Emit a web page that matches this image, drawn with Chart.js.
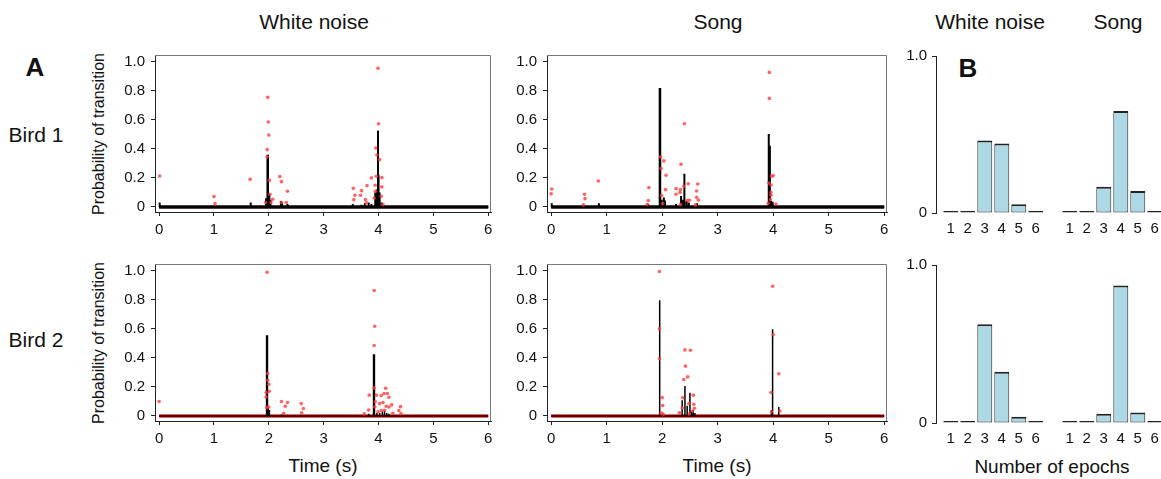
<!DOCTYPE html>
<html>
<head>
<meta charset="utf-8">
<title>Probability of transition</title>
<script src="https://cdn.jsdelivr.net/npm/chart.js@4.4.0/dist/chart.umd.min.js"></script>
<style>
  body { margin: 0; background: #fff; }
  #figure { position: relative; width: 1161px; height: 479px; overflow: hidden;
            font-family: "Liberation Sans", Arial, sans-serif; color: #111; }
  #figure canvas { position: absolute; }
  .label { position: absolute; transform: translate(-50%, -50%); white-space: nowrap; font-size: 19px; }
  .head { font-size: 21px; }
  .bird { font-size: 21px; }
  .panel { font-weight: bold; font-size: 26px; }
  .ylab { font-size: 16px; transform: translate(-50%, -50%) rotate(-90deg); }
</style>
</head>
<body>
<div id="figure">
  <div class="label head" style="left:314px;top:22px">White noise</div>
  <div class="label head" style="left:718px;top:22px">Song</div>
  <div class="label head" style="left:990px;top:22px">White noise</div>
  <div class="label head" style="left:1118px;top:22px">Song</div>
  <div class="label panel" style="left:35px;top:67px">A</div>
  <div class="label panel" style="left:968px;top:68px">B</div>
  <div class="label bird" style="left:36px;top:135px">Bird 1</div>
  <div class="label bird" style="left:36px;top:340px">Bird 2</div>
  <div class="label ylab" style="left:99px;top:134px">Probability of transition</div>
  <div class="label ylab" style="left:99px;top:343px">Probability of transition</div>
  <div class="label" style="left:323px;top:466px">Time (s)</div>
  <div class="label" style="left:717px;top:466px">Time (s)</div>
  <div class="label" style="left:1052px;top:467px">Number of epochs</div>
  <canvas id="wn1"></canvas>
  <canvas id="song1"></canvas>
  <canvas id="wn2"></canvas>
  <canvas id="song2"></canvas>
  <canvas id="epochs1"></canvas>
  <canvas id="epochs2"></canvas>
</div>
<script>
// axis ticks
const timeTicks = [0, 1, 2, 3, 4, 5, 6];
const probTicks = [0, 0.2, 0.4, 0.6, 0.8, 1.0];
const epochs = ['1', '2', '3', '4', '5', '6'];

// Bird 1, white noise: black trace (spikes) and red points
const wn1SpikeT = [0.01, 1.67, 1.95, 1.975, 1.985, 2.01, 2.03, 2.22, 2.24, 2.34, 3.53, 3.69, 3.75, 3.82, 3.87, 3.94, 3.97, 3.99, 4.0, 4.02, 4.06];
const wn1SpikeP = [0.03, 0.03, 0.06, 0.36, 0.36, 0.09, 0.05, 0.04, 0.03, 0.02, 0.02, 0.015, 0.025, 0.03, 0.02, 0.1, 0.12, 0.525, 0.22, 0.1, 0.03];
const wn1DotT = [0.01, 1.0, 1.02, 1.66, 1.98, 1.99, 2.0, 1.97, 1.97, 2.01, 2.02, 2.07, 1.94, 2.04, 2.2, 2.23, 2.34, 2.23, 2.32,
                 3.54, 3.57, 3.55, 3.69, 3.67, 3.76, 3.79, 3.87, 3.78, 3.95, 3.97, 3.99, 4.0, 4.02, 3.96, 3.94, 4.06, 4.06, 4.05, 3.94, 3.92, 4.08];
const wn1DotP = [0.213, 0.071, 0.023, 0.19, 0.755, 0.585, 0.495, 0.395, 0.344, 0.183, 0.087, 0.053, 0.03, 0.03, 0.209, 0.174, 0.108, 0.03, 0.03,
                 0.128, 0.08, 0.05, 0.112, 0.08, 0.05, 0.147, 0.2, 0.028, 0.406, 0.358, 0.956, 0.573, 0.326, 0.211, 0.149, 0.202, 0.138, 0.073, 0.108, 0.062, 0.016];

// Bird 1, song
const song1SpikeT = [0.01, 0.58, 0.86, 1.75, 1.955, 1.965, 1.99, 2.03, 2.05, 2.25, 2.34, 2.37, 2.4, 2.44, 2.48, 2.63, 3.92, 3.94, 3.96, 3.99];
const song1SpikeP = [0.025, 0.015, 0.025, 0.02, 0.82, 0.82, 0.05, 0.065, 0.045, 0.02, 0.075, 0.05, 0.229, 0.04, 0.03, 0.025, 0.502, 0.422, 0.04, 0.035];
const song1DotT = [0.01, 0.0, 0.6, 0.61, 0.58, 0.85, 1.76, 1.75, 1.73, 1.97, 1.98, 2.03, 2.07, 2.06, 1.99, 2.01, 2.25, 2.25, 2.34, 2.33, 2.32,
                   2.4, 2.39, 2.47, 2.45, 2.49, 2.33, 2.64, 2.62, 2.62, 2.65, 2.6, 3.93, 3.93, 3.92, 3.96, 3.97, 4.0, 3.96, 3.96, 3.95, 4.05, 3.91];
const song1DotP = [0.124, 0.09, 0.087, 0.057, 0.014, 0.179, 0.133, 0.044, 0.016, 0.344, 0.264, 0.317, 0.218, 0.119, 0.078, 0.023, 0.126, 0.087, 0.294, 0.119, 0.1,
                   0.573, 0.142, 0.16, 0.044, 0.046, 0.016, 0.158, 0.11, 0.067, 0.048, 0.014, 0.927, 0.748, 0.165, 0.151, 0.211, 0.216, 0.1, 0.08, 0.05, 0.02, 0.025];

// Bird 2, white noise
const wn2SpikeT = [1.95, 1.965, 1.975, 1.99, 2.01, 2.23, 3.82, 3.9, 3.915, 3.925, 3.97, 4.02, 4.07, 4.11, 4.15, 4.19];
const wn2SpikeP = [0.03, 0.556, 0.556, 0.06, 0.04, 0.01, 0.015, 0.05, 0.425, 0.425, 0.02, 0.02, 0.03, 0.035, 0.02, 0.015];
const wn2DotT = [0.0, 1.97, 1.98, 1.98, 2.0, 2.01, 1.95, 1.95, 1.96, 2.0, 2.23, 2.34, 2.3, 2.27, 2.59, 2.63, 2.6,
                 3.92, 3.93, 3.92, 3.83, 3.92, 3.96, 3.82, 3.94, 3.93, 4.02, 4.05, 4.08, 4.1, 4.13, 4.14, 4.16, 4.19, 4.19, 4.24,
                 4.05, 4.11, 3.99, 4.26, 4.4, 4.37, 4.41, 3.74];
const wn2DotP = [0.099, 0.99, 0.292, 0.246, 0.218, 0.17, 0.161, 0.131, 0.057, 0.062, 0.099, 0.092, 0.067, 0.018, 0.085, 0.051, 0.021,
                 0.864, 0.618, 0.485, 0.143, 0.193, 0.143, 0.041, 0.097, 0.062, 0.085, 0.14, 0.092, 0.154, 0.191, 0.067, 0.154, 0.129, 0.062, 0.076,
                 0.037, 0.039, 0.028, 0.018, 0.064, 0.037, 0.016, 0.014];

// Bird 2, song
const song2SpikeT = [1.955, 2.01, 2.36, 2.41, 2.45, 2.5, 2.53, 2.56, 2.59, 3.97, 3.98, 3.995, 4.1];
const song2SpikeP = [0.798, 0.02, 0.108, 0.207, 0.07, 0.159, 0.03, 0.04, 0.02, 0.04, 0.598, 0.598, 0.062];
const song2DotT = [1.95, 1.95, 1.95, 2.0, 2.01, 1.98, 2.02, 2.41, 2.51, 2.42, 2.46, 2.39, 2.37, 2.36, 2.31, 2.48, 2.56, 2.57, 2.58, 2.55, 2.49,
                   3.96, 3.99, 4.0, 3.97, 4.1, 4.12];
const song2DotP = [0.995, 0.395, 0.6, 0.126, 0.071, 0.021, 0.011, 0.455, 0.453, 0.343, 0.269, 0.251, 0.126, 0.055, 0.021, 0.085, 0.143, 0.08, 0.053, 0.034, 0.014,
                   0.161, 0.894, 0.559, 0.028, 0.29, 0.034];

// B: proportion of songs by number of epochs
const wnBird1 = [0, 0, 0.462, 0.443, 0.055, 0];
const songBird1 = [0, 0, 0.167, 0.65, 0.14, 0.006];
const wnBird2 = [0, 0, 0.625, 0.324, 0.04, 0];
const songBird2 = [0, 0, 0.059, 0.87, 0.067, 0];

Chart.defaults.font.family = '"Liberation Sans", Arial, sans-serif';
Chart.defaults.font.size = 15;
Chart.defaults.color = '#111';

// top and right edges of the plot box
const frameBox = {
    id: 'frameBox',
    afterDatasetsDraw(chart, args, opts) {
        if (!opts.color) return;
        const { ctx, chartArea: a } = chart;
        ctx.save();
        ctx.strokeStyle = opts.color;
        ctx.lineWidth = 1;
        ctx.beginPath();
        ctx.moveTo(a.left, a.top + 0.5);
        ctx.lineTo(a.right - 0.5, a.top + 0.5);
        ctx.lineTo(a.right - 0.5, a.bottom);
        ctx.stroke();
        ctx.restore();
    }
};

function placeCanvas(id, left, top, width, height) {
    const canvas = document.getElementById(id);
    canvas.width = width;
    canvas.height = height;
    canvas.style.left = left + 'px';
    canvas.style.top = top + 'px';
    return canvas;
}

// box = plot frame in page pixels
function transitionChart(id, box, spikeT, spikeP, dotT, dotP, baseColor, traceWidth) {
    const left = box.left - 55, top = box.top - 10;
    const width = box.right - left + 10, height = box.bottom - top + 34;
    const canvas = placeCanvas(id, left, top, width, height);

    const trace = [{ x: 0, y: 0 }];
    spikeT.forEach((t, i) => trace.push({ x: t, y: 0 }, { x: t, y: spikeP[i] }, { x: t, y: 0 }));
    trace.push({ x: 6, y: 0 });
    const dots = dotT.map((t, i) => ({ x: t, y: dotP[i] }));

    return new Chart(canvas, {
        type: 'scatter',
        data: {
            datasets: [
                { data: dots, pointRadius: 1.8, pointBackgroundColor: 'rgba(255,60,60,0.8)', pointBorderWidth: 0 },
                { data: trace, showLine: true, borderColor: '#000', borderWidth: traceWidth, pointRadius: 0, borderJoinStyle: 'bevel' },
                { data: [{ x: 0, y: 0 }, { x: 6, y: 0 }], showLine: true, borderColor: baseColor, borderWidth: 3.5, pointRadius: 0 }
            ]
        },
        plugins: [frameBox],
        options: {
            responsive: false,
            animation: false,
            devicePixelRatio: 1,
            layout: { padding: { top: box.top - top, right: left + width - box.right, left: 0, bottom: 0 } },
            plugins: { legend: { display: false }, tooltip: { enabled: false }, frameBox: { color: '#777' } },
            scales: {
                x: {
                    type: 'linear', min: -0.075, max: 6.05,
                    afterBuildTicks: s => { s.ticks = timeTicks.map(v => ({ value: v })); },
                    afterFit: s => { s.height = top + height - box.bottom; s.paddingLeft = 0; s.paddingRight = 0; },
                    grid: { drawOnChartArea: false, drawTicks: true, tickLength: 4, color: '#222' },
                    border: { display: true, color: '#222' },
                    ticks: { padding: 5, maxRotation: 0, autoSkip: false, callback: v => String(v) }
                },
                y: {
                    type: 'linear', min: -0.035, max: 1.047,
                    afterBuildTicks: s => { s.ticks = probTicks.map(v => ({ value: v })); },
                    afterFit: s => { s.width = box.left - left; s.paddingTop = 0; s.paddingBottom = 0; },
                    grid: { drawOnChartArea: false, drawTicks: true, tickLength: 4, color: '#222' },
                    border: { display: true, color: '#222' },
                    ticks: { padding: 6, autoSkip: false, callback: v => (v === 0 ? '0' : v.toFixed(1)) }
                }
            }
        }
    });
}

// area = chart area in page pixels (y axis at area.left)
function epochChart(id, area, wn, song) {
    const left = 880, top = area.top - 11, width = 1161 - left, height = 200;
    const canvas = placeCanvas(id, left, top, width, height);
    const wnPos = epochs.map((e, i) => i + 1);
    const songPos = epochs.map((e, i) => i + 8);
    const tickLabels = {};
    wnPos.forEach((p, i) => { tickLabels[p] = epochs[i]; });
    songPos.forEach((p, i) => { tickLabels[p] = epochs[i]; });
    const bars = wn.map((v, i) => ({ x: wnPos[i], y: v }))
        .concat(song.map((v, i) => ({ x: songPos[i], y: v })));

    return new Chart(canvas, {
        type: 'bar',
        data: {
            datasets: [{
                data: bars,
                backgroundColor: '#add8e6',
                borderColor: '#222',
                borderWidth: { top: 2, left: 1, right: 1, bottom: 1 },
                borderSkipped: false,
                minBarLength: 2,
                categoryPercentage: 1,
                barPercentage: 0.88,
                clip: false
            }]
        },
        options: {
            responsive: false,
            animation: false,
            devicePixelRatio: 1,
            layout: { padding: { top: area.top - top, right: 0, left: 0, bottom: 0 } },
            plugins: { legend: { display: false }, tooltip: { enabled: false } },
            scales: {
                x: {
                    type: 'linear', offset: false, min: 0.13, max: 0.13 + (1161 - area.left) / 17,
                    afterBuildTicks: s => { s.ticks = wnPos.concat(songPos).map(v => ({ value: v })); },
                    afterFit: s => { s.height = top + height - area.bottom; s.paddingLeft = 0; s.paddingRight = 0; },
                    grid: { display: false, drawTicks: false },
                    border: { display: false },
                    ticks: { padding: 7, maxRotation: 0, autoSkip: false, callback: v => tickLabels[v] }
                },
                y: {
                    type: 'linear', min: 0, max: 1,
                    afterBuildTicks: s => { s.ticks = [{ value: 0 }, { value: 1 }]; },
                    afterFit: s => { s.width = area.left - left; s.paddingTop = 0; s.paddingBottom = 0; },
                    grid: { drawOnChartArea: false, drawTicks: true, tickLength: 4, color: '#222' },
                    border: { display: true, color: '#222' },
                    ticks: { padding: 5, autoSkip: false, callback: v => (v === 0 ? '0' : v.toFixed(1)) }
                }
            }
        }
    });
}

transitionChart('wn1', { left: 155, top: 55, right: 491, bottom: 212 }, wn1SpikeT, wn1SpikeP, wn1DotT, wn1DotP, '#1a0000', 2);
transitionChart('song1', { left: 547, top: 55, right: 887, bottom: 212 }, song1SpikeT, song1SpikeP, song1DotT, song1DotP, '#1a0000', 2);
transitionChart('wn2', { left: 155, top: 264, right: 491, bottom: 421 }, wn2SpikeT, wn2SpikeP, wn2DotT, wn2DotP, '#ff3030', 1.5);
transitionChart('song2', { left: 547, top: 264, right: 887, bottom: 421 }, song2SpikeT, song2SpikeP, song2DotT, song2DotP, '#ff3030', 1.5);
epochChart('epochs1', { left: 936, top: 56, bottom: 213 }, wnBird1, songBird1);
epochChart('epochs2', { left: 936, top: 265, bottom: 423 }, wnBird2, songBird2);
</script>
</body>
</html>
